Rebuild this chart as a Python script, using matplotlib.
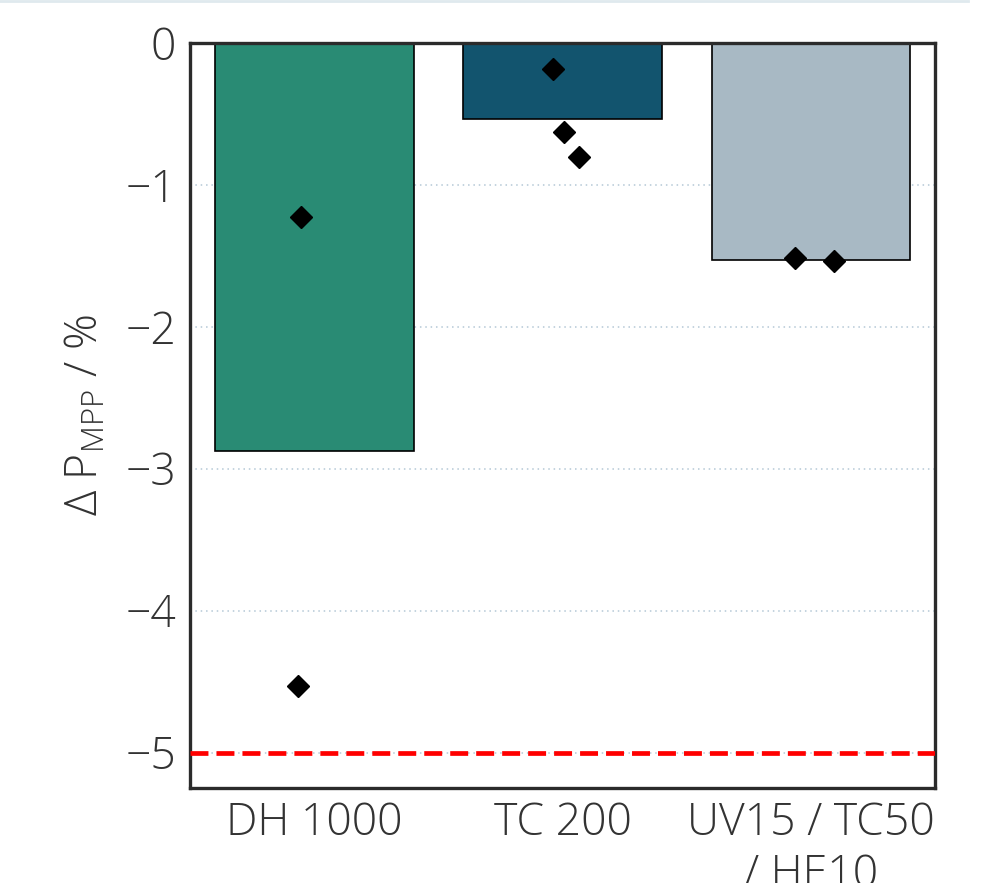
import matplotlib
matplotlib.use("Agg")
import matplotlib.pyplot as plt
from matplotlib.lines import Line2D
import numpy as np

plt.rcParams['font.family'] = ['Open Sans', 'DejaVu Sans']
plt.rcParams['font.weight'] = 'light'
plt.rcParams['axes.labelweight'] = 'light'
plt.rcParams['mathtext.fontset'] = 'custom'
plt.rcParams['mathtext.rm'] = 'Open Sans:light'

# ---- data ----
categories = ["DH 1000", "TC 200", "UV15 / TC50\n/ HE10"]
bar_values = [-2.875, -0.536, -1.526]
bar_colors = ["#298B74", "#12546E", "#A8B9C4"]
point_values = [
    [-1.224, -4.531],
    [-0.183, -0.629, -0.801],
    [-1.517, -1.536],
]
point_offsets = [
    [-0.054, -0.065],
    [-0.040, 0.005, 0.068],
    [-0.062, 0.095],
]
limit_value = -5.0
yticks = [0, -1, -2, -3, -4, -5]
ytick_labels = ["0", "\u22121", "\u22122", "\u22123", "\u22124", "\u22125"]

fig = plt.figure(figsize=(9.98, 8.83), dpi=100)
ax = fig.add_axes([190/998, 1-788/883, 745/998, (788-43)/883])

x = np.arange(len(categories))
ax.bar(x, bar_values, width=0.8, color=bar_colors, edgecolor="black",
       linewidth=1.2, zorder=2)

for i, (vals, offs) in enumerate(zip(point_values, point_offsets)):
    ax.plot(x[i] + np.array(offs), vals, linestyle="none", marker="D",
            markersize=11.5, color="black", zorder=4)

ax.axhline(limit_value, color="#ff0000", linewidth=3.4,
           dashes=(3.8, 1.7), zorder=3)

ax.set_xlim(-0.5, 2.5)
ax.set_ylim(-5.25, 0)
ax.set_yticks(yticks)
ax.set_yticklabels(ytick_labels)
ax.set_xticks(x)
ax.set_xticklabels(categories)
ax.yaxis.grid(True, linestyle=(0, (1, 2.5)), color="#b4c8d6", linewidth=1.1, zorder=0)
ax.set_axisbelow(True)

ax.tick_params(axis="both", length=0, labelsize=32, colors="#333333")
ax.tick_params(axis="y", pad=10)
ax.tick_params(axis="x", pad=10)
for lbl in ax.get_xticklabels():
    lbl.set_linespacing(1.2)

for s in ax.spines.values():
    s.set_linewidth(2.4)
    s.set_color("#2b2b2b")

ax.set_ylabel("\u0394 P$_\\mathregular{MPP}$ / %", fontsize=32, color="#333333",
              labelpad=12, fontweight="light")

# thin light band at top edge of screenshot
fig.add_artist(Line2D([0, 968/998], [1 - 1.2/883, 1 - 1.2/883], transform=fig.transFigure,
                      color="#dfe9ee", linewidth=2))

fig.savefig("out.png", dpi=100, facecolor="white")
